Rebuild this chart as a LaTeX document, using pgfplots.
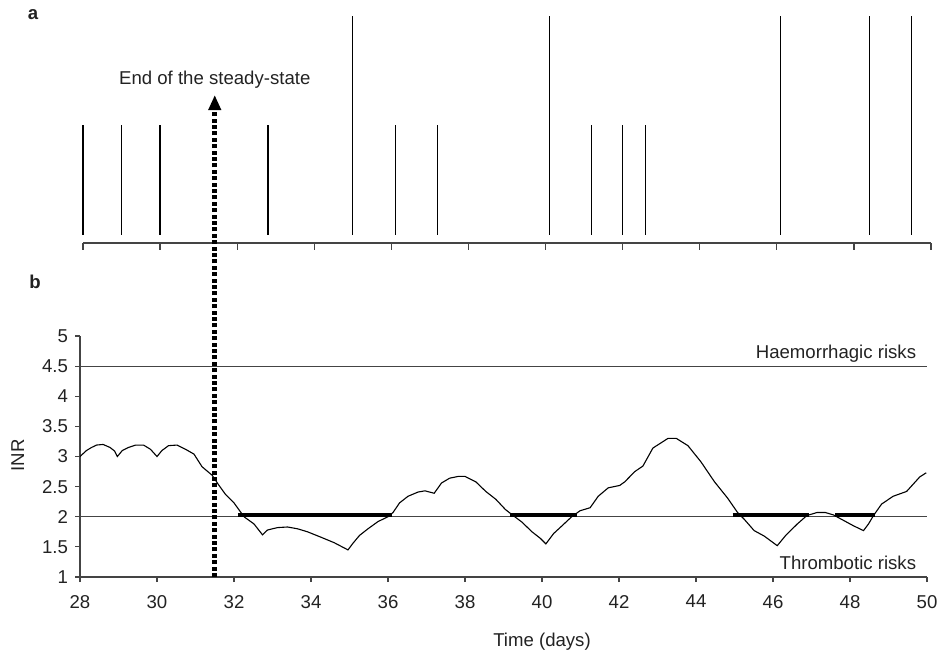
\documentclass[border=0pt]{standalone}
\usepackage{pgfplots}
\pgfplotsset{compat=1.18}
\usepackage{fontspec}
\setmainfont{Liberation Sans}
\usetikzlibrary{arrows.meta}
\definecolor{axgray}{HTML}{444444}
\definecolor{txt}{HTML}{222222}

% INR over time (days)
\pgfplotstableread{
t inr
28.00 3.00
28.17 3.10
28.30 3.15
28.43 3.19
28.60 3.20
28.78 3.15
28.90 3.09
28.97 3.00
29.10 3.10
29.26 3.15
29.45 3.19
29.65 3.19
29.83 3.12
30.00 3.00
30.13 3.10
30.30 3.18
30.52 3.19
30.74 3.12
30.96 3.04
31.17 2.83
31.43 2.69
31.60 2.53
31.78 2.37
32.00 2.23
32.26 2.00
32.52 1.88
32.74 1.70
32.87 1.78
33.13 1.82
33.39 1.83
33.65 1.80
33.91 1.75
34.26 1.66
34.60 1.57
34.96 1.45
35.09 1.56
35.26 1.69
35.48 1.80
35.74 1.92
36.00 2.00
36.13 2.07
36.30 2.23
36.52 2.34
36.78 2.41
36.96 2.43
37.20 2.39
37.39 2.56
37.60 2.64
37.83 2.67
38.00 2.67
38.28 2.58
38.54 2.42
38.80 2.29
39.05 2.12
39.23 2.03
39.48 1.91
39.74 1.75
39.96 1.64
40.10 1.55
40.30 1.72
40.52 1.85
40.77 2.00
40.99 2.10
41.25 2.15
41.46 2.34
41.72 2.48
42.02 2.52
42.15 2.58
42.41 2.75
42.62 2.84
42.88 3.14
43.10 3.23
43.27 3.30
43.49 3.30
43.79 3.18
44.13 2.91
44.48 2.58
44.82 2.31
45.08 2.07
45.25 1.96
45.51 1.77
45.77 1.68
46.11 1.52
46.33 1.69
46.63 1.88
46.88 2.02
47.14 2.07
47.36 2.07
47.57 2.03
47.83 1.94
48.09 1.85
48.35 1.77
48.48 1.88
48.61 2.02
48.82 2.21
49.12 2.34
49.47 2.42
49.64 2.54
49.81 2.66
49.98 2.73
}\inrdata

% doses
\pgfplotstableread{
t dose
28.0 1
29.0 1
30.0 1
32.8 1
35.0 2
36.1 1
37.2 1
40.1 2
41.2 1
42.0 1
42.6 1
46.1 2
48.4 2
49.5 2
}\dosedata

\begin{document}
\begin{tikzpicture}[font=\fontsize{9.3}{11}\selectfont, text=txt]
\useasboundingbox (0,0) rectangle (470.5pt,326pt);

% panel a
\begin{axis}[
  at={(41.5pt,204.5pt)}, anchor=south west,
  scale only axis, width=424pt, height=113.5pt,
  xmin=28, xmax=50, ymin=-0.073, ymax=2,
  axis x line*=bottom, axis y line=none,
  axis line style={axgray, line width=0.7pt},
  xtick={28,30,...,50}, xticklabels={},
  tick align=outside, major tick length=3.5pt,
  tick style={axgray, line width=0.6pt},
  clip=false,
]
\addplot[ycomb, black, line width=0.6pt, mark=none] table[x=t, y=dose] {\dosedata};
\end{axis}

% panel b
\begin{axis}[
  at={(40pt,37.5pt)}, anchor=south west,
  scale only axis, width=423.5pt, height=120.5pt,
  xmin=28, xmax=50, ymin=1, ymax=5,
  axis lines*=left,
  axis line style={axgray, line width=0.7pt},
  xtick={28,30,...,50},
  ytick={1,1.5,2,2.5,3,3.5,4,4.5,5},
  yticklabels={1,1.5,2,2.5,3,3.5,4,4.5,5},
  xticklabel style={yshift=-3pt},
  /pgf/number format/assume math mode=true,
  tick align=outside, major tick length=2.5pt,
  tick style={axgray, line width=0.6pt},
  clip=false,
]
\addplot[axgray, line width=0.6pt] coordinates {(28,4.5) (50,4.5)};
\addplot[axgray, line width=0.6pt] coordinates {(28,2) (50,2)};
\addplot[black, line width=1.6pt] coordinates {(32.1,2.03) (36.1,2.03)};
\addplot[black, line width=1.6pt] coordinates {(39.18,2.03) (40.9,2.03)};
\addplot[black, line width=1.6pt] coordinates {(44.95,2.03) (46.93,2.03)};
\addplot[black, line width=1.6pt] coordinates {(47.62,2.03) (48.65,2.03)};
\addplot[black, line width=0.55pt] table[x=t, y=inr] {\inrdata};
\addplot[black, line width=2.5pt, dash pattern=on 2pt off 1.2pt,
  -{Triangle[width=6pt,length=7.5pt]}] coordinates {(31.5,1) (31.5,9)};

\node[anchor=base east] at (axis cs:49.9,4.63) {Haemorrhagic risks};
\node[anchor=base east] at (axis cs:49.9,1.12) {Thrombotic risks};
\node[anchor=base] at (axis cs:40,-0.16) {Time (days)};
\node[rotate=90] at (axis cs:26.38,3.02) {INR};
\node at (axis cs:31.5,9.25) {End of the steady-state};
\node[font=\fontsize{9.3}{11}\selectfont\bfseries] at (axis cs:26.83,5.9) {b};
\node[font=\fontsize{9.3}{11}\selectfont\bfseries] at (axis cs:26.78,10.33) {a};
\end{axis}
\end{tikzpicture}
\end{document}
